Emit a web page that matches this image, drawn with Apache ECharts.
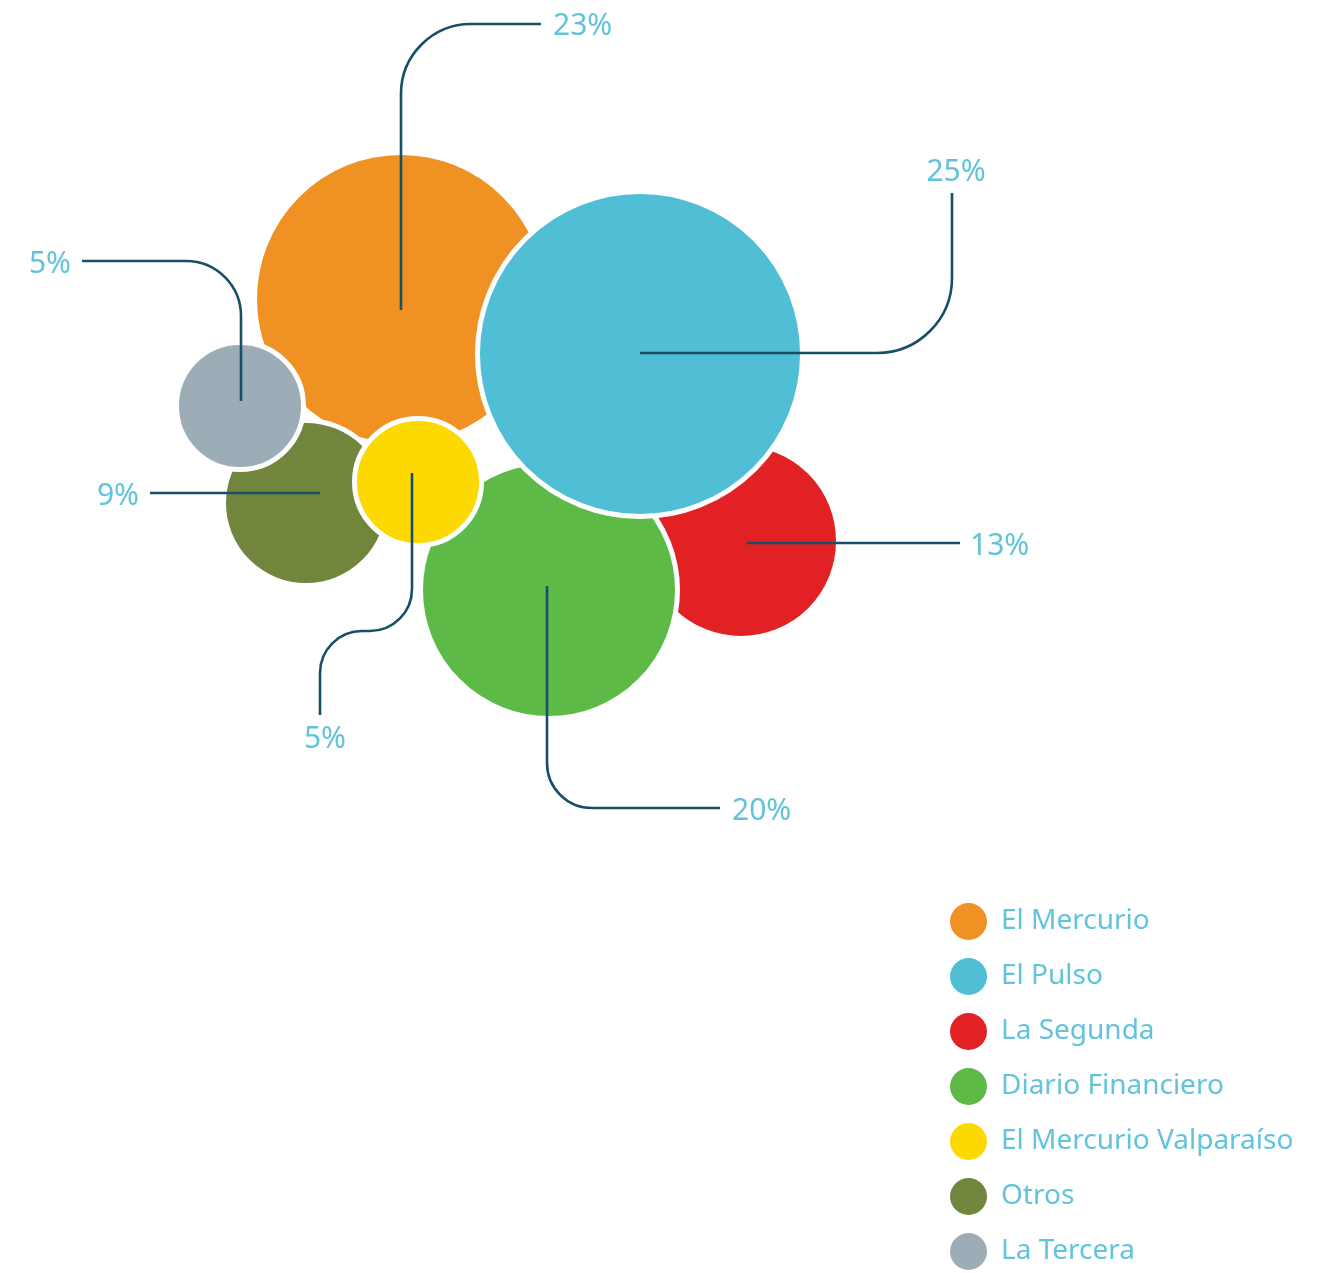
<!DOCTYPE html>
<html>
<head>
<meta charset="utf-8">
<script src="https://cdn.jsdelivr.net/npm/echarts@6/dist/echarts.min.js"></script>
<style>html,body{margin:0;padding:0;background:#fff}#c{width:1332px;height:1273px}</style>
</head>
<body>
<div id="c"></div>
<script>
// ---- data ----
const names = ['El Mercurio', 'El Pulso', 'La Segunda', 'Diario Financiero', 'El Mercurio Valparaíso', 'Otros', 'La Tercera'];
const shares = [23, 25, 13, 20, 5, 9, 5];
const colors = ['#f09123', '#50bed5', '#e22124', '#5dba47', '#fcd900', '#71853d', '#9dadb8'];

// ---- layout (packed bubble positions, sizes, leader routes) ----
const bubbleCenters = [[401, 299], [640, 354], [741, 541], [549, 590], [418, 482], [306, 503], [240, 406]];
const bubbleRadii = [144, 160, 95, 126, 61, 80, 61];
const drawOrder = [0, 2, 3, 5, 6, 4, 1];
const leaderRoutes = [
  [[401, 310], [401, 24], [541, 24]],
  [[640, 353], [952, 353], [952, 193]],
  [[747, 543], [960, 543]],
  [[547, 586], [547, 808], [720, 808]],
  [[412, 473], [412, 631], [320, 631], [320, 715]],
  [[320, 493], [150, 493]],
  [[241, 401], [241, 261], [82, 261]]
];
const cornerRadii = [75, 75, 0, 45, 42, 0, 55];
const labelAnchors = [
  [553, 26.5, 'left'], [956, 172.5, 'center'], [970, 546.5, 'left'], [732, 811.5, 'left'],
  [325, 739.5, 'center'], [139, 496.5, 'right'], [71, 264.5, 'right']
];

const FONT = '"Noto Sans", sans-serif';
const TEXT_COLOR = '#62c3dc';
const LINE_COLOR = '#174f66';
const BORDER = 5;

function roundedPath(pts, r) {
  let d = 'M' + pts[0][0] + ' ' + pts[0][1];
  const k = 0.5523;
  for (let i = 1; i < pts.length - 1; i++) {
    const p = pts[i], a0 = pts[i - 1], b0 = pts[i + 1];
    const l1 = Math.hypot(a0[0] - p[0], a0[1] - p[1]);
    const l2 = Math.hypot(b0[0] - p[0], b0[1] - p[1]);
    const rr = Math.min(r, l1 / 2, l2 / 2);
    const a = [p[0] + (a0[0] - p[0]) / l1 * rr, p[1] + (a0[1] - p[1]) / l1 * rr];
    const b = [p[0] + (b0[0] - p[0]) / l2 * rr, p[1] + (b0[1] - p[1]) / l2 * rr];
    const c1 = [a[0] + (p[0] - a[0]) * k, a[1] + (p[1] - a[1]) * k];
    const c2 = [b[0] + (p[0] - b[0]) * k, b[1] + (p[1] - b[1]) * k];
    d += ' L' + a[0] + ' ' + a[1] + ' C' + c1[0] + ' ' + c1[1] + ' ' + c2[0] + ' ' + c2[1] + ' ' + b[0] + ' ' + b[1];
  }
  const last = pts[pts.length - 1];
  d += ' L' + last[0] + ' ' + last[1];
  return d;
}

const chart = echarts.init(document.getElementById('c'), null, { renderer: 'canvas' });

const bubbleSeries = drawOrder.map(i => ({
  type: 'scatter',
  name: names[i],
  data: [[bubbleCenters[i][0], bubbleCenters[i][1], shares[i]]],
  symbol: 'circle',
  symbolSize: 2 * bubbleRadii[i] + BORDER,
  itemStyle: { color: colors[i], borderColor: '#ffffff', borderWidth: BORDER, opacity: 1 },
  emphasis: { disabled: true },
  silent: true,
  z: 2
}));

const leaderSeries = {
  type: 'custom',
  name: 'leaders',
  coordinateSystem: 'cartesian2d',
  silent: true,
  clip: false,
  z: 5,
  encode: { x: 0, y: 1 },
  data: names.map((n, i) => [bubbleCenters[i][0], bubbleCenters[i][1], i]),
  renderItem: function (params, api) {
    const i = api.value(2);
    const pts = leaderRoutes[i].map(p => api.coord(p));
    const anc = labelAnchors[i];
    const ap = api.coord([anc[0], anc[1]]);
    return {
      type: 'group',
      children: [
        { type: 'path', shape: { pathData: roundedPath(pts, cornerRadii[i]) },
          style: { stroke: LINE_COLOR, lineWidth: 2.6, fill: 'none' } },
        { type: 'text', x: ap[0], y: ap[1],
          style: { text: shares[i] + '%', fill: TEXT_COLOR, fontSize: 30, fontFamily: FONT,
                   align: anc[2], verticalAlign: 'middle' } }
      ]
    };
  }
};

chart.setOption({
  animation: false,
  backgroundColor: '#ffffff',
  grid: { left: 0, right: 0, top: 0, bottom: 0 },
  xAxis: { type: 'value', min: 0, max: 1332, show: false },
  yAxis: { type: 'value', min: 0, max: 1273, inverse: true, show: false },
  legend: {
    orient: 'vertical', left: 950, top: 903, padding: 0,
    itemWidth: 37, itemHeight: 37, itemGap: 18,
    icon: 'circle', data: names, selectedMode: false,
    itemStyle: { borderWidth: 0 },
    textStyle: { fontSize: 28, color: TEXT_COLOR, fontFamily: FONT, padding: [0, 0, 0, 9], lineHeight: 37 }
  },
  series: bubbleSeries.concat([leaderSeries])
});
</script>
</body>
</html>
